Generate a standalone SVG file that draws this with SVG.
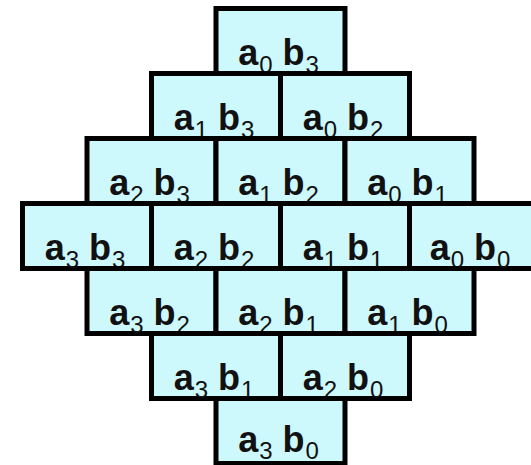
<svg xmlns="http://www.w3.org/2000/svg" width="531" height="465" viewBox="0 0 531 465">
<style>
.box{fill:#cdf8fc;stroke:#000;stroke-width:5}
.t{font-family:"Liberation Sans",Arial,sans-serif;font-weight:bold;font-size:36px;fill:#111;text-anchor:middle}
.s{font-size:24px;font-weight:normal}
</style>
<rect width="531" height="465" fill="#fff"/>
<g id="n-a0b3"><rect class="box" x="216" y="8.5" width="129" height="65"/><text class="t" x="278.5" y="64.5">a<tspan class="s" dx="1" dy="8">0</tspan><tspan dy="-8"> b</tspan><tspan class="s" dx="1" dy="8">3</tspan></text></g>
<g id="n-a1b3"><rect class="box" x="151.5" y="73.5" width="129" height="65"/><text class="t" x="214" y="129.5">a<tspan class="s" dx="1" dy="8">1</tspan><tspan dy="-8"> b</tspan><tspan class="s" dx="1" dy="8">3</tspan></text></g>
<g id="n-a0b2"><rect class="box" x="280.5" y="73.5" width="129" height="65"/><text class="t" x="343" y="129.5">a<tspan class="s" dx="1" dy="8">0</tspan><tspan dy="-8"> b</tspan><tspan class="s" dx="1" dy="8">2</tspan></text></g>
<g id="n-a2b3"><rect class="box" x="87" y="138.5" width="129" height="65"/><text class="t" x="149.5" y="194.5">a<tspan class="s" dx="1" dy="8">2</tspan><tspan dy="-8"> b</tspan><tspan class="s" dx="1" dy="8">3</tspan></text></g>
<g id="n-a1b2"><rect class="box" x="216" y="138.5" width="129" height="65"/><text class="t" x="278.5" y="194.5">a<tspan class="s" dx="1" dy="8">1</tspan><tspan dy="-8"> b</tspan><tspan class="s" dx="1" dy="8">2</tspan></text></g>
<g id="n-a0b1"><rect class="box" x="345" y="138.5" width="129" height="65"/><text class="t" x="407.5" y="194.5">a<tspan class="s" dx="1" dy="8">0</tspan><tspan dy="-8"> b</tspan><tspan class="s" dx="1" dy="8">1</tspan></text></g>
<g id="n-a3b3"><rect class="box" x="22.5" y="203.5" width="129" height="65"/><text class="t" x="85" y="259.5">a<tspan class="s" dx="1" dy="8">3</tspan><tspan dy="-8"> b</tspan><tspan class="s" dx="1" dy="8">3</tspan></text></g>
<g id="n-a2b2"><rect class="box" x="151.5" y="203.5" width="129" height="65"/><text class="t" x="214" y="259.5">a<tspan class="s" dx="1" dy="8">2</tspan><tspan dy="-8"> b</tspan><tspan class="s" dx="1" dy="8">2</tspan></text></g>
<g id="n-a1b1"><rect class="box" x="280.5" y="203.5" width="129" height="65"/><text class="t" x="343" y="259.5">a<tspan class="s" dx="1" dy="8">1</tspan><tspan dy="-8"> b</tspan><tspan class="s" dx="1" dy="8">1</tspan></text></g>
<g id="n-a0b0"><rect class="box" x="409.5" y="203.5" width="129" height="65"/><text class="t" x="470" y="259.5">a<tspan class="s" dx="1" dy="8">0</tspan><tspan dy="-8"> b</tspan><tspan class="s" dx="1" dy="8">0</tspan></text></g>
<g id="n-a3b2"><rect class="box" x="87" y="268.5" width="129" height="65"/><text class="t" x="149.5" y="324.5">a<tspan class="s" dx="1" dy="8">3</tspan><tspan dy="-8"> b</tspan><tspan class="s" dx="1" dy="8">2</tspan></text></g>
<g id="n-a2b1"><rect class="box" x="216" y="268.5" width="129" height="65"/><text class="t" x="278.5" y="324.5">a<tspan class="s" dx="1" dy="8">2</tspan><tspan dy="-8"> b</tspan><tspan class="s" dx="1" dy="8">1</tspan></text></g>
<g id="n-a1b0"><rect class="box" x="345" y="268.5" width="129" height="65"/><text class="t" x="407.5" y="324.5">a<tspan class="s" dx="1" dy="8">1</tspan><tspan dy="-8"> b</tspan><tspan class="s" dx="1" dy="8">0</tspan></text></g>
<g id="n-a3b1"><rect class="box" x="151.5" y="333.5" width="129" height="65"/><text class="t" x="214" y="389.5">a<tspan class="s" dx="1" dy="8">3</tspan><tspan dy="-8"> b</tspan><tspan class="s" dx="1" dy="8">1</tspan></text></g>
<g id="n-a2b0"><rect class="box" x="280.5" y="333.5" width="129" height="65"/><text class="t" x="343" y="389.5">a<tspan class="s" dx="1" dy="8">2</tspan><tspan dy="-8"> b</tspan><tspan class="s" dx="1" dy="8">0</tspan></text></g>
<g id="n-a3b0"><rect class="box" x="216" y="398.5" width="129" height="65"/><text class="t" x="278.5" y="452">a<tspan class="s" dx="1" dy="7">3</tspan><tspan dy="-7"> b</tspan><tspan class="s" dx="1" dy="7">0</tspan></text></g>
<g id="connectors"/>
</svg>
